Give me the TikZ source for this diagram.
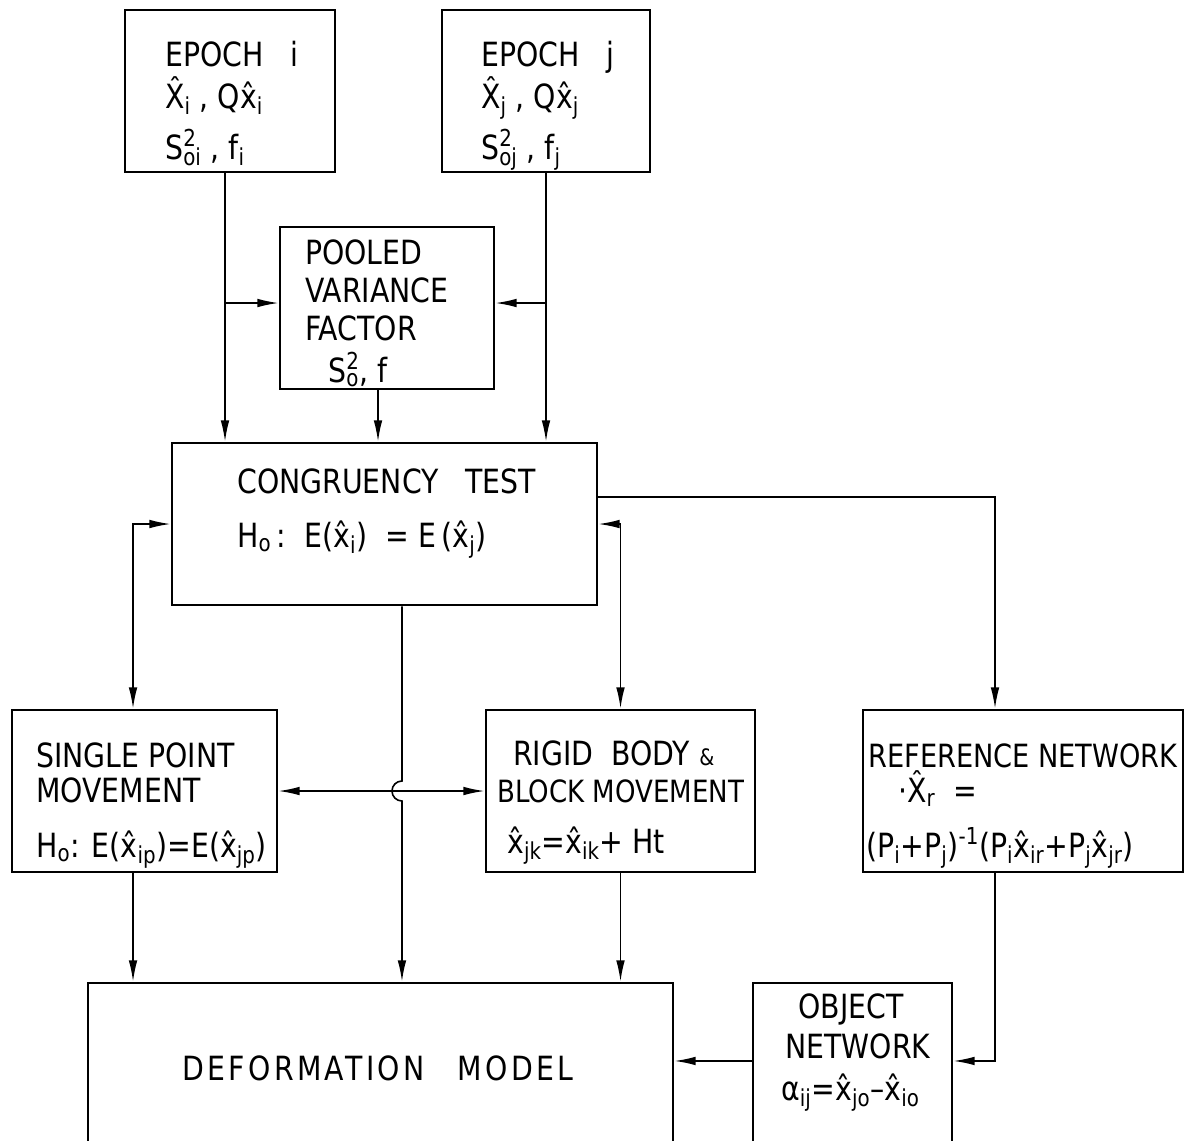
\documentclass[tikz,border=0pt]{standalone}
\usepackage{fontspec}
\setmainfont{DejaVu Sans}[FakeStretch=0.85]
\usetikzlibrary{arrows.meta,fit,calc}
\newcommand\sbs[1]{\textsubscript{#1}}
\newcommand\sps[2]{\rlap{\textsuperscript{#1}}\textsubscript{#2}}
\tikzset{
 box/.style={draw, line width=2.1pt, inner sep=0pt},
 lbl/.style={inner sep=0pt, anchor=base west, font=\fontsize{25}{30}\selectfont},
 conn/.style={line width=1.2pt},
 arr/.style={conn, -{Latex[length=16pt,width=6.5pt]}},
 darr/.style={conn, {Latex[length=16pt,width=6.5pt]}-{Latex[length=16pt,width=6.5pt]}},
}
\begin{document}
\begin{tikzpicture}[x=0.75pt,y=-0.75pt]
\useasboundingbox (0,0) rectangle (1192,1140);
\clip (0,0) rectangle (1192,1140);
% boxes
\node[box, fit={(125,10)(335,172)}] (ei) {};
\node[box, fit={(442,10)(650,172)}] (ej) {};
\node[box, fit={(280,227)(494,389)}] (pv) {};
\node[box, fit={(172,443)(597,605)}] (ct) {};
\node[box, fit={(12,710)(277,872)}] (sp) {};
\node[box, fit={(486,710)(755,872)}] (rb) {};
\node[box, fit={(863,710)(1183,872)}] (rn) {};
\node[box, fit={(88,983)(673,1160)}] (dm) {};
\node[box, fit={(753,983)(952,1160)}] (on) {};
% texts
\node[lbl] (ei1) at (165,66) {EPOCH\hspace{0.8em}i};
\node[lbl] (ei2) at (165,108) {\^X\sbs{i} , Q\^x\sbs{i}};
\node[lbl] (ei3) at (165,159) {S\sps{2}{oi} ,\ f\sbs{i}};
\node[lbl] (ej1) at (481,66) {EPOCH\hspace{0.8em}j};
\node[lbl] (ej2) at (481,108) {\^X\sbs{j} , Q\^x\sbs{j}};
\node[lbl] (ej3) at (481,159) {S\sps{2}{oj} , f\sbs{j}};
\node[lbl] (pv1) at (305,264) {POOLED};
\node[lbl] (pv2) at (305,302) {VARIANCE};
\node[lbl] (pv3) at (305,340) {FACTOR};
\node[lbl] (pv4) at (328,382) {S\sps{2}{o}, f};
\node[lbl] (ct1) at (237,493) {CONGRUENCY\ \ \ TEST};
\node[lbl] (ct2) at (237,547) {H\sbs{o}\,:\ \ E(\^x\sbs{i})\ \ =\ E\,(\^x\sbs{j})};
\node[lbl] (sp1) at (36,767) {SINGLE\ POINT};
\node[lbl] (sp2) at (36,802) {MOVEMENT};
\node[lbl] (sp3) at (36,857) {H\sbs{o}: E(\^x\sbs{ip})=E(\^x\sbs{jp})};
\node[lbl] (rb1) at (513,765) {RIGID\ \ BODY {\fontsize{17}{18}\selectfont\&}};
\node[lbl, font=\fontsize{23}{28}\selectfont] (rb2) at (497,802) {BLOCK MOVEMENT};
\node[lbl] (rb3) at (507,853) {\^x\sbs{jk}=\^x\sbs{ik}+ Ht};
\node[lbl, font=\fontsize{24}{28}\selectfont] (rn1) at (868,767) {REFERENCE NETWORK};
\node[lbl] (rn2) at (898,802) {·\^X\sbs{r}\ \ =};
\node[lbl] (rn3) at (866,857) {(P\sbs{i}+P\sbs{j})\textsuperscript{-1}(P\sbs{i}\^x\sbs{ir}+P\sbs{j}\^x\sbs{jr})};
\node[lbl] (on1) at (798,1018) {OBJECT};
\node[lbl] (on2) at (785,1058) {NETWORK};
\node[lbl] (on3) at (781,1100) {α\sbs{ij}=\^x\sbs{jo}–\^x\sbs{io}};
\node[lbl, anchor=base] (dm1) at (378,1080) {\addfontfeatures{LetterSpace=10}DEFORMATION\quad MODEL};
% helper coordinates
\coordinate (eib) at ([xshift=-3.75pt]ei.south);
\coordinate (pvL) at ([yshift=3.75pt]pv.west);
\coordinate (pvR) at ([yshift=3.75pt]pv.east);
\coordinate (pvb) at ([xshift=-6.75pt]pv.south);
\coordinate (cte) at ([yshift=20.25pt]ct.east);
\coordinate (ctb) at ([xshift=13.1pt]ct.south);
\coordinate (spt) at ([xshift=-8.6pt]sp.north);
\coordinate (spb) at ([xshift=-8.6pt]sp.south);
\coordinate (rnt) at ([xshift=-21pt]rn.north);
\coordinate (rnb) at ([xshift=-21pt]rn.south);
\coordinate (one) at ([yshift=7.9pt]on.east);
\coordinate (onw) at ([yshift=7.9pt]on.west);
% connectors
\draw[arr] (eib) -- (eib |- ct.north);
\draw[arr] (eib |- pvL) -- (pvL);
\draw[arr] (ej.south) -- (ej.south |- ct.north);
\draw[arr] (ej.south |- pvR) -- (pvR);
\draw[arr] (pvb) -- (pvb |- ct.north);
\draw[arr] (cte) -| (rnt);
\draw[darr] (ct.west) -| (spt);
\draw[darr] (ct.east) -| (rb.north);
\draw[darr] (sp.east) -- (rb.west);
\draw[arr] (ctb) -- ($(ctb |- sp.east)+(0,-10)$) arc[start angle=270, end angle=90, radius=10] -- (ctb |- dm.north);
\draw[arr] (spb) -- (spb |- dm.north);
\draw[arr] (rb.south) -- (rb.south |- dm.north);
\draw[arr] (rnb) |- (one);
\draw[arr] (onw) -- (onw -| dm.east);
\end{tikzpicture}
\end{document}
